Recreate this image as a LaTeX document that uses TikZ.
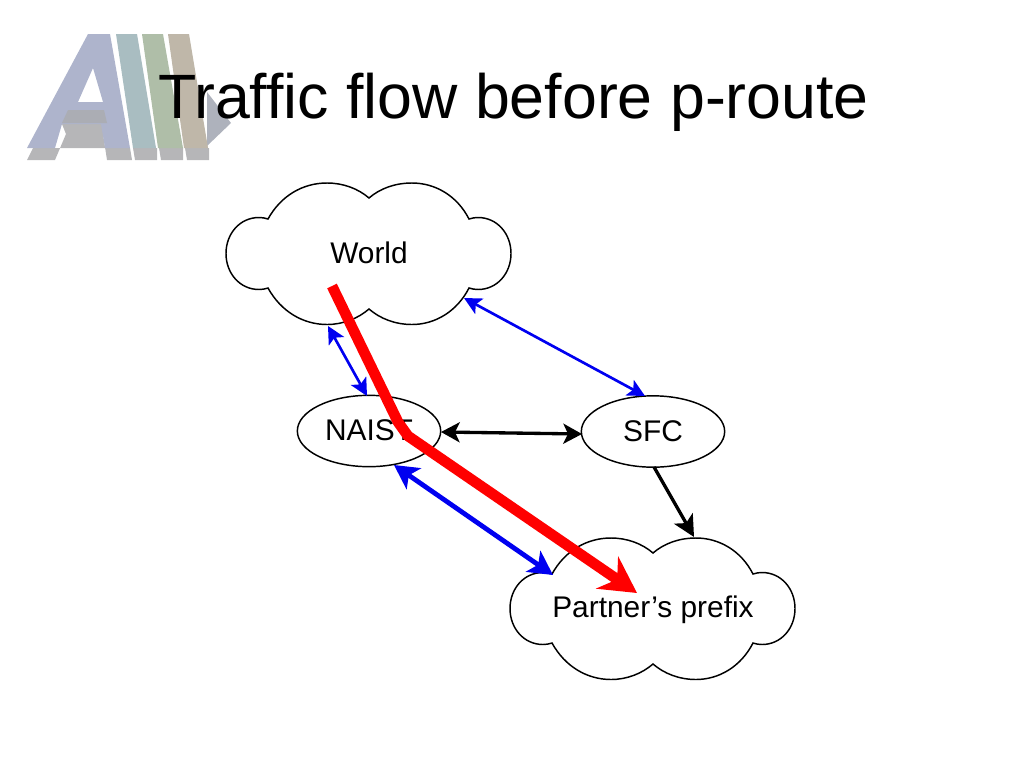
\documentclass[tikz,border=0pt]{standalone}
\usepackage{fontspec}
\setmainfont{Liberation Sans}
\usetikzlibrary{arrows.meta,shapes.geometric}
\definecolor{logoA}{HTML}{AEB4CC}
\definecolor{logoT}{HTML}{A9BDC1}
\definecolor{logoG}{HTML}{AFBEA8}
\definecolor{logoB}{HTML}{BFB7A9}
\definecolor{logoS}{HTML}{B6B6B8}
\definecolor{logoP}{HTML}{AEB2BC}
\definecolor{logoC}{HTML}{ABADB4}
\definecolor{flowblue}{HTML}{0000F0}
\definecolor{flowred}{HTML}{FF0000}
\tikzset{
  lbl/.style={font=\fontsize{22.4pt}{26pt}\selectfont,text=black},
  cloudnode/.style={shape=ellipse,minimum width=213.75pt,minimum height=107.25pt,inner sep=0pt,outer sep=0pt,lbl},
  oval/.style={shape=ellipse,draw=black,line width=1.1pt,minimum width=107.5pt,minimum height=53.5pt,inner sep=0pt,outer sep=0pt,fill=white,lbl},
  cloudline/.style={draw=black,line width=1.1pt,fill=white},
  thinblue/.style={draw=flowblue,line width=2pt,{Stealth[length=13pt,width=13pt,inset=3pt]}-{Stealth[length=13pt,width=13pt,inset=3pt]}},
  thickblue/.style={draw=flowblue,line width=3.6pt,{Stealth[length=18pt,width=19pt,inset=4.5pt]}-{Stealth[length=18pt,width=19pt,inset=4.5pt]}},
  blackboth/.style={draw=black,line width=2.5pt,{Stealth[length=14pt,width=15pt,inset=3.5pt]}-{Stealth[length=14pt,width=15pt,inset=3.5pt]}},
  blackone/.style={draw=black,line width=2.5pt,-{Stealth[length=16pt,width=16pt,inset=4pt]}},
  redflow/.style={draw=flowred,line width=8pt,line join=round,-{Stealth[length=27pt,width=29pt,inset=9pt]}},
  pics/cloudshape/.style={code={
    \path[cloudline] (-101,-34.5)
      .. controls (-88,-58) and (-66,-70.5) .. (-42,-70.5)
      .. controls (-26,-70.5) and (-11,-65) .. (0,-55.5)
      .. controls (11,-65) and (26,-70.5) .. (43,-70.5)
      .. controls (66,-70.5) and (88,-58) .. (100,-34.5)
      .. controls (103,-35.5) and (106,-36) .. (109,-36)
      .. controls (128,-36) and (142,-20) .. (142,0)
      .. controls (142,20) and (128,36) .. (109,36)
      .. controls (106,36) and (103,35.5) .. (100,34.5)
      .. controls (88,58) and (66,71) .. (43,71)
      .. controls (26,71) and (11,65) .. (0,55.5)
      .. controls (-11,65) and (-26,71) .. (-42,71)
      .. controls (-66,71) and (-88,58) .. (-101,34.5)
      .. controls (-104,35.5) and (-107,36) .. (-110,36)
      .. controls (-129,36) and (-143,20) .. (-143,0)
      .. controls (-143,-20) and (-129,-36) .. (-110,-36)
      .. controls (-107,-36) and (-104,-35.5) .. (-101,-34.5) -- cycle;
  }}
}
\begin{document}
\begin{tikzpicture}[x=0.75pt,y=-0.75pt]
\useasboundingbox (0,0) rectangle (1024,768);
% logo
\fill[logoS] (27,160) -- (33,148) -- (130,148) -- (132,160) -- (107,160) -- (103,134) -- (66,134) -- (55,160) -- cycle;
\fill[logoS] (133,148) -- (157,148) -- (157,160) -- (135,160) -- cycle;
\fill[logoS] (159,148) -- (183,148) -- (183,160) -- (161,160) -- cycle;
\fill[logoS] (185,148) -- (209,148) -- (209,160) -- (187,160) -- cycle;
\fill[logoS] (62,124) -- (108,124) -- (103,134) -- (66,134) -- cycle;
\fill[logoP] (207,92) -- (231,123) -- (207,146) -- cycle;
\fill[logoA,even odd rule] (27,148) -- (88,34) -- (110,34) -- (130,148) -- (105,148) -- (101,124) -- (62,124) -- (55,148) -- cycle
  (93,68) -- (78,102) -- (103,102) -- cycle;
\fill[logoC] (68,110) -- (104,110) -- (107,123) -- (62,123) -- cycle;
\fill[logoT] (116,34) -- (137,34) -- (156,148) -- (133,148) -- cycle;
\fill[logoG] (142,34) -- (163,34) -- (183,148) -- (158,148) -- cycle;
\fill[logoB] (168,34) -- (189,34) -- (208,148) -- (184,148) -- cycle;
% title
\node[font=\fontsize{47pt}{54pt}\selectfont,text=black,anchor=base west,inner sep=0pt] (title) at (158,118) {Traffic flow before p-route};
% shapes
\pic at (369,253.5) {cloudshape};
\pic at (653,608.5) {cloudshape};
\node[cloudnode] (world) at (369,253) {World};
\node[cloudnode] (partner) at (653,610) {Partner’s prefix};
\node[oval] (naist) at (369,431) {\raisebox{0.75pt}{NAIST}};
\node[oval] (sfc) at (653,431.5) {\raisebox{1pt}{SFC}};
% connectors
\draw[thinblue] ([shift={(95,45)}]world.center) -- ([shift={(-8,-35.5)}]sfc.center);
\draw[thinblue] ([shift={(-41,73)}]world.center) -- ([shift={(-2,-35)}]naist.center);
\draw[blackboth] ([shift={(72,1)}]naist.center) -- ([shift={(-71,2.5)}]sfc.center);
\draw[thickblue] ([shift={(25,34)}]naist.center) -- ([shift={(-100,-35)}]partner.center);
\draw[blackone] ([shift={(1,35.5)}]sfc.center) -- ([shift={(41,-73)}]partner.center);
\draw[redflow] ([shift={(-37,33)}]world.center) -- ([shift={(29,-9)}]naist.center) -- ([shift={(39,5)}]naist.center) -- ([shift={(-16,-17)}]partner.center);
\end{tikzpicture}
\end{document}
